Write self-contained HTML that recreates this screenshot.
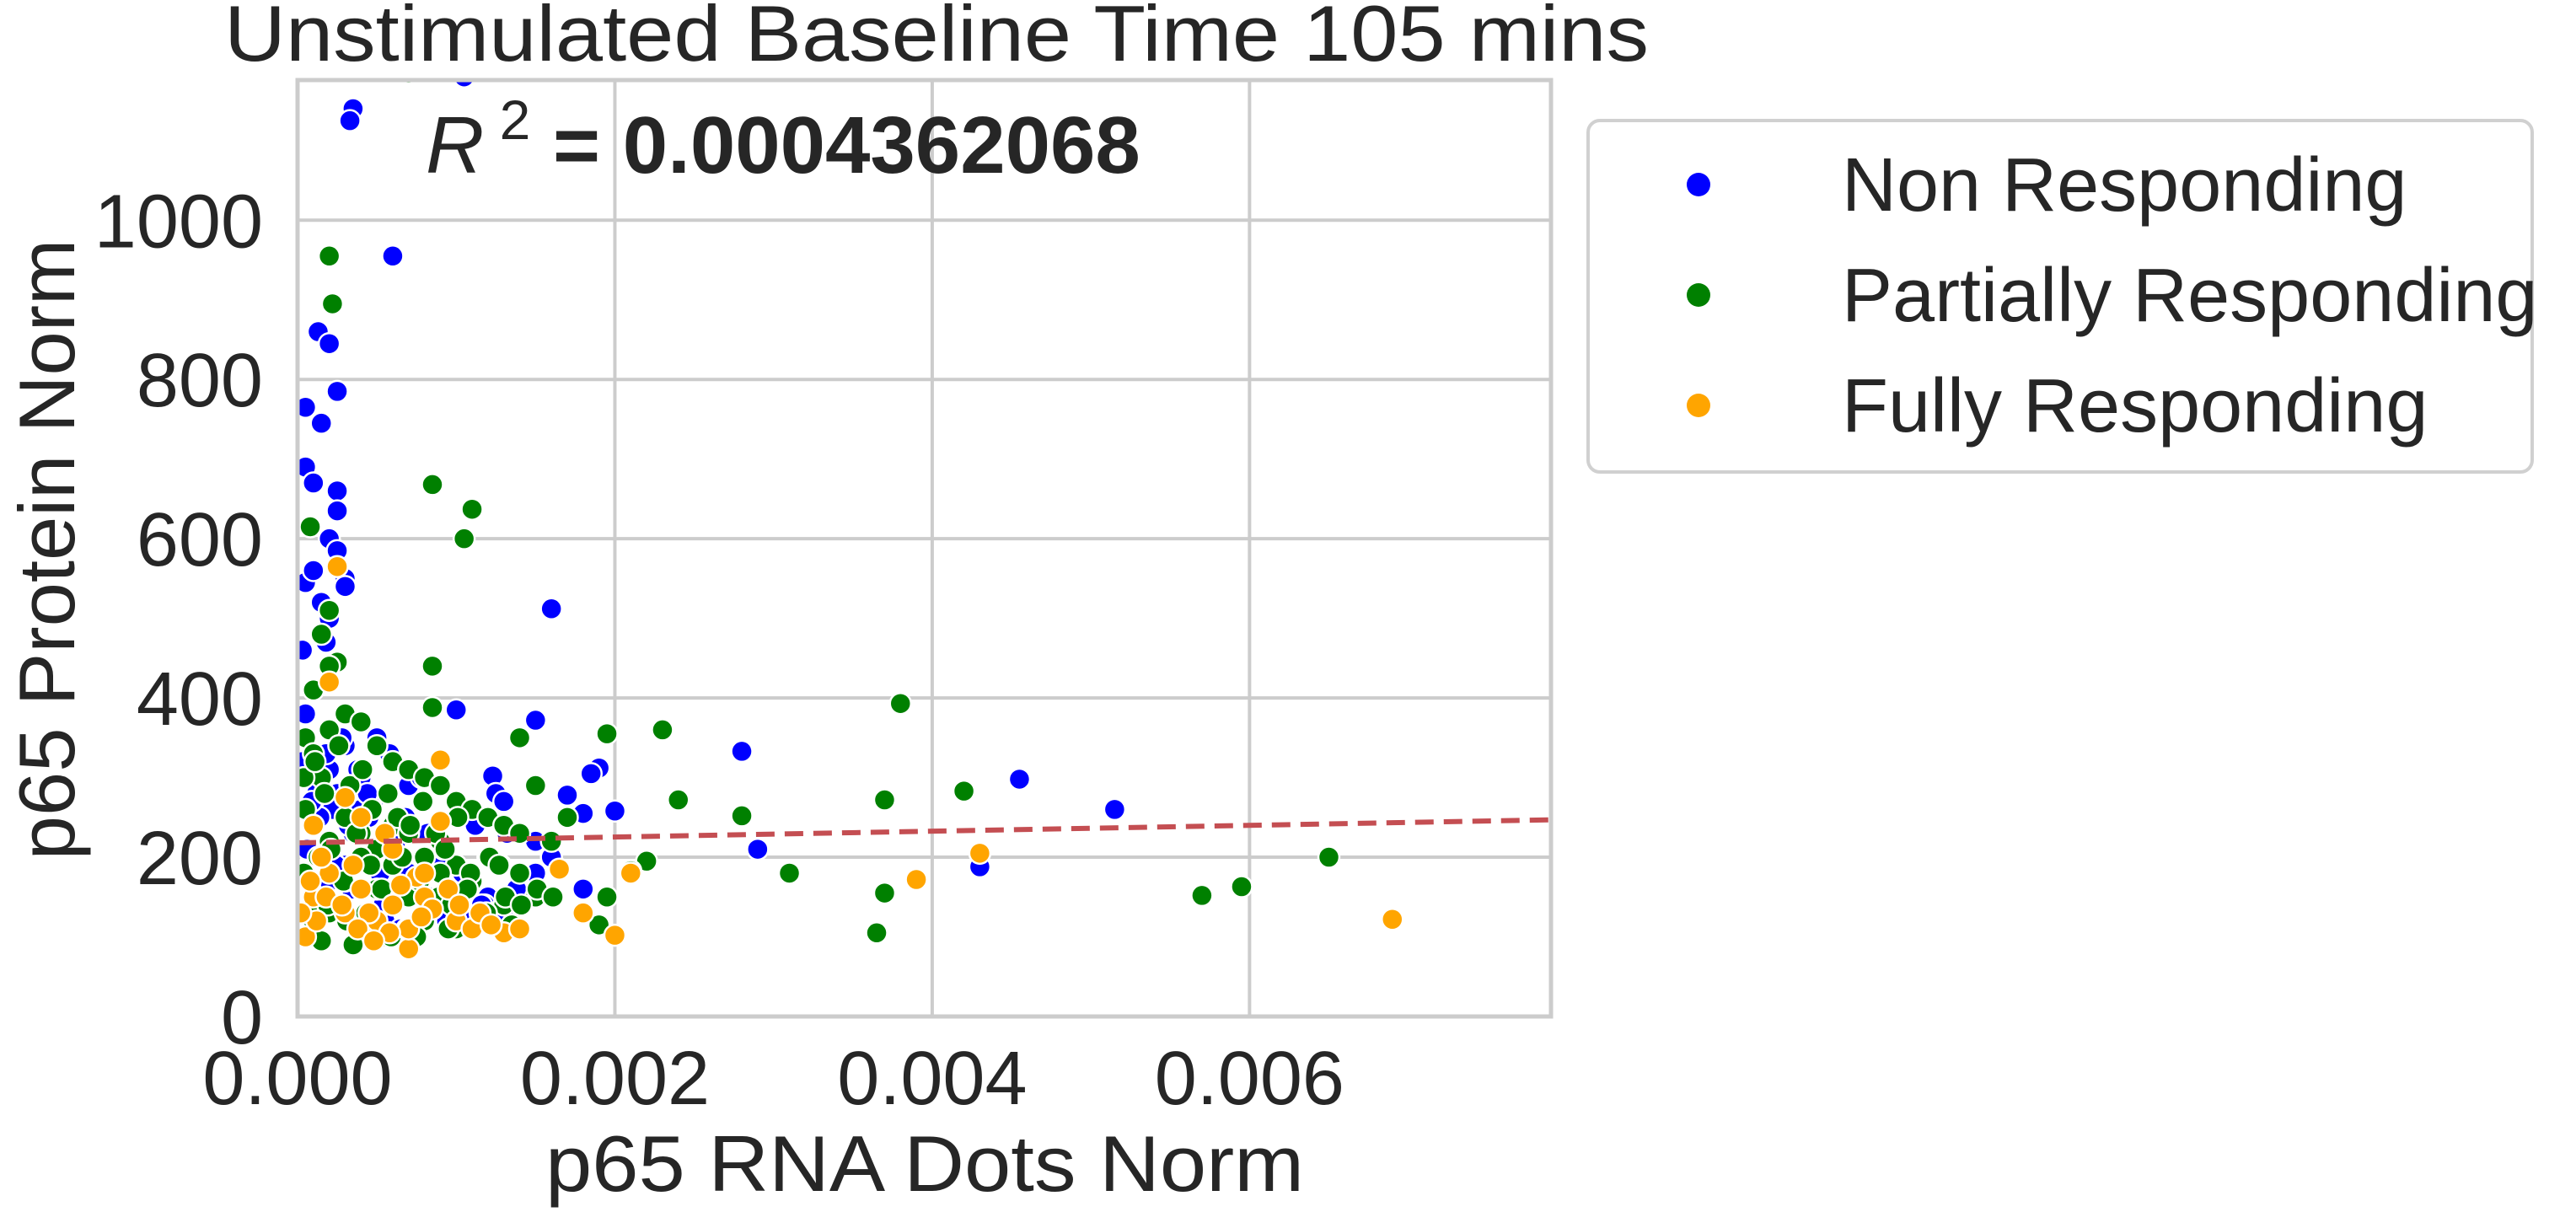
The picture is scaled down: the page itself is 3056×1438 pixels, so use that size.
<!DOCTYPE html>
<html><head><meta charset="utf-8"><style>
html,body{margin:0;padding:0;background:#fff}
svg{display:block;font-family:"Liberation Sans",Arial,sans-serif}
</style></head><body>
<svg id="chart" width="3056" height="1438" viewBox="0 0 3056 1438" xmlns="http://www.w3.org/2000/svg">
<rect width="3056" height="1438" fill="#fff"/>
<g id="grid"></g>
<g id="pts"></g>
<g id="axes"></g>
<text x="266" y="72" font-size="94" fill="#262626" textLength="1690" lengthAdjust="spacingAndGlyphs">Unstimulated Baseline Time 105 mins</text>
<text x="505" y="205" font-size="96" fill="#262626"><tspan font-style="italic">R</tspan><tspan dy="-40" font-size="66"> 2</tspan><tspan dy="40" font-weight="bold"> = 0.0004362068</tspan></text>
<text x="1097" y="1413" font-size="94" fill="#262626" text-anchor="middle" textLength="900" lengthAdjust="spacingAndGlyphs">p65 RNA Dots Norm</text>
<text transform="translate(88,652) rotate(-90)" font-size="94" fill="#262626" text-anchor="middle">p65 Protein Norm</text>
<g>
<rect x="1884" y="143" width="1120" height="417" rx="14" fill="#fff" stroke="#d0d0d0" stroke-width="4"/>
<circle cx="2015" cy="219" r="14" fill="#0000ff"/>
<text x="2185" y="250" font-size="90" fill="#262626">Non Responding</text>
<circle cx="2015" cy="350" r="14" fill="#008000"/>
<text x="2185" y="381" font-size="90" fill="#262626">Partially Responding</text>
<circle cx="2015" cy="481" r="14" fill="#ffa500"/>
<text x="2185" y="512" font-size="90" fill="#262626">Fully Responding</text>
</g>
</svg>
<script>
const xTicks=[0,0.002,0.004,0.006];
const xTickLabels=["0.000","0.002","0.004","0.006"];
const yTicks=[0,200,400,600,800,1000];
const yTickLabels=["0","200","400","600","800","1000"];
const nonX=[0.00105,0.00035,0.00033,0.0006,0.00013,0.0002,0.00025,0.00005,0.00015,0.00005,0.0001,0.00025,0.00025,0.0002,0.00025,0.0003,0.0003,0.00005,0.0001,0.00015,0.0002,0.00018,0.00003,0.0016,0.001,0.0015,0.0028,0.0019,0.00185,0.002,0.0017,0.0018,0.0029,0.0043,0.00455,0.00515,0.00123,0.00125,0.0011,0.0013,0.0016,0.0015,0.0018,0.0014,0.00105,0.0009,0.0006,0.0005,0.0004,0.0003,0.0002,0.0001,0.00005,0.0007,0.0008,0.00045,0.00035,0.00015,0.0001,0.0002,0.0003,0.00055,0.00065,0.00085,0.0012,0.0013,0.0004,0.0001,0.00025,0.0006,0.0008,0.0011,0.0015,0.0007,
0.00008,0.00012,0.00018,0.00022,0.00028,0.00032,0.00038,0.00042,0.00048,0.00052,0.00058,0.00062,0.00068,0.00072,0.00078,0.00082,0.00088,0.00092,0.00098,0.00102,0.00108,0.00112,0.00118,0.00128,0.00132,0.00138,0.00006,0.00014,0.00024,0.00034,0.00044,0.00054,0.00064,0.00074,0.00084,0.00094,0.00104,0.00116,0.00003,0.00009];
const nonY=[1180,1140,1125,955,860,845,785,765,745,690,670,660,635,600,585,550,540,545,560,520,500,470,460,512,385,372,333,312,305,258,278,255,210,188,298,260,302,280,255,270,200,180,160,150,130,140,320,350,300,340,310,330,380,290,270,250,230,160,150,170,190,120,110,130,150,125,260,240,280,210,200,120,220,180,
300,280,330,260,350,240,310,200,270,180,330,220,250,160,300,230,190,210,150,260,170,240,140,190,230,160,210,250,190,160,280,140,200,170,150,120,180,140,320,270];
const parX=[0.0007,0.0002,0.00022,0.00085,0.0011,0.00105,0.00008,0.0038,0.00085,0.00085,0.0023,0.00195,0.0014,0.0024,0.0028,0.0037,0.0042,0.0065,0.00595,0.0057,0.0037,0.00365,0.0031,0.0022,0.0021,0.0019,0.00195,0.0017,0.0015,0.00005,0.0001,0.00015,0.0002,0.0003,0.0004,0.0005,0.0006,0.0007,0.0008,0.0009,0.001,0.0011,0.0012,0.0013,0.0014,0.0016,0.00005,0.0001,0.0002,0.0003,0.0004,0.0005,0.0006,0.0007,0.0008,0.0009,0.001,0.0012,0.0014,0.0003,0.0005,0.0007,0.0009,0.0011,0.0013,0.0015,0.0001,0.0002,0.0004,0.0006,0.0008,0.001,0.00015,0.00035,0.00055,0.00075,0.00095,0.00115,0.00135,0.00015,0.0002,0.00025,0.0001,0.0002,0.0004,0.0006,
0.00004,0.00011,0.00017,0.00026,0.00033,0.00041,0.00047,0.00057,0.00063,0.00071,0.00079,0.00087,0.00093,0.00101,0.00109,0.00121,0.00127,0.00004,0.00013,0.00021,0.00029,0.00037,0.00046,0.00053,0.00066,0.00077,0.00089,0.00097,0.00107,0.00119,0.00131,0.00141,0.00151,0.00161,0.00007,0.00019,0.00031,0.00043,0.00059,0.00069];
const parY=[1185,955,895,668,637,600,615,393,440,388,360,355,350,272,252,272,283,200,163,152,155,105,180,195,183,115,150,250,290,350,330,300,360,380,370,340,320,310,300,290,270,260,250,240,230,220,260,240,220,250,230,210,240,230,200,220,190,200,180,170,160,150,180,170,140,150,120,130,110,100,120,110,95,90,100,100,110,120,115,480,510,445,410,440,200,190,
300,320,280,340,290,310,260,280,250,240,270,230,210,250,180,200,190,180,200,210,170,230,190,160,200,170,150,140,160,130,150,140,160,150,130,140,120,130,100,110];
const fulX=[0.0069,0.0043,0.0039,0.0021,0.002,0.0018,0.00165,0.0009,0.0002,0.00025,0.0007,0.0009,0.00005,0.0001,0.0002,0.0003,0.0004,0.0005,0.0006,0.0007,0.0008,0.001,0.0011,0.0013,0.00015,0.00035,0.00055,0.00075,0.00095,0.00115,0.0014,0.0004,0.0006,0.0008,0.0003,0.0001,
0.00008,0.00018,0.00028,0.00045,0.00065,0.00085,0.00012,0.00038,0.00058,0.00078,0.00102,0.00122,0.00002,0.00048];
const fulY=[122,205,172,180,102,130,185,322,420,565,85,245,100,150,180,130,160,120,140,110,150,120,110,105,200,190,230,175,160,130,110,250,210,180,275,240,
170,150,140,130,165,135,120,110,105,125,140,115,130,95];
const L=353,R=1840,T=95,B=1206,XMAX=0.0079,YMAX=1176;
function sx(v){return L+v/XMAX*(R-L);}
function sy(v){return B-v/YMAX*(B-T);}
const NS='http://www.w3.org/2000/svg';
function mk(t,a,p){const e=document.createElementNS(NS,t);for(const k in a)e.setAttribute(k,a[k]);p.appendChild(e);return e;}
const grid=document.getElementById('grid'),axes=document.getElementById('axes'),pts=document.getElementById('pts');
xTicks.forEach((v,i)=>{
 const g=mk('line',{x1:sx(v),x2:sx(v),y1:T,y2:B,stroke:'#cccccc','stroke-width':4},grid);
 
 
 const t=mk('text',{x:sx(v),y:1310,'font-size':90,fill:'#262626','text-anchor':'middle'},axes);
 t.textContent=xTickLabels[i];
 
 
});
yTicks.forEach((v,i)=>{
 const g=mk('line',{x1:L,x2:R,y1:sy(v),y2:sy(v),stroke:'#cccccc','stroke-width':4},grid);
 
 
 const t=mk('text',{x:312,y:sy(v)+32,'font-size':90,fill:'#262626','text-anchor':'end'},axes);
 t.textContent=yTickLabels[i];
 
 
});
const sp=mk('rect',{x:L,y:T,width:R-L,height:B-T,fill:'none',stroke:'#cccccc','stroke-width':5},axes);


const clip=mk('clipPath',{id:'pc'},document.getElementById('chart'));
mk('rect',{x:L,y:T,width:R-L,height:B-T},clip);
pts.setAttribute('clip-path','url(#pc)');
function series(xs,ys,col,name){
 xs.forEach((x,i)=>{
  const c=mk('circle',{cx:sx(x),cy:sy(ys[i]),r:12.5,fill:col,stroke:'#fff','stroke-width':2.5},pts);
  
  
 });
}
series(nonX,nonY,'#0000ff','point-non-responding');
series(parX,parY,'#008000','point-partially-responding');
series(fulX,fulY,'#ffa500','point-fully-responding');
const fitX=[0,0.0079];
const fitY=[218,247];
const ln=mk('line',{x1:sx(fitX[0]),y1:sy(fitY[0]),x2:sx(fitX[1]),y2:sy(fitY[1]),stroke:'#c44e52','stroke-width':6,'stroke-dasharray':'22 12'},pts);


</script>
</body></html>
